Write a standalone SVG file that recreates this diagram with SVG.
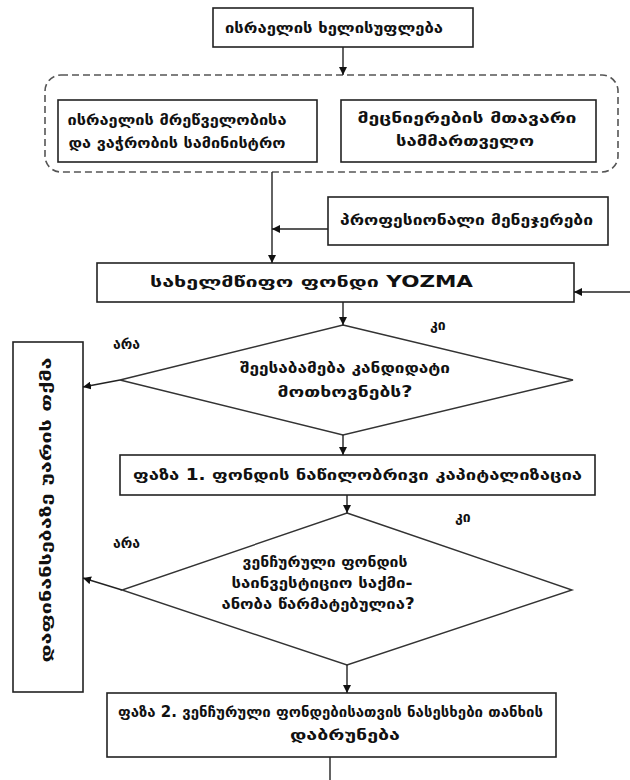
<svg xmlns="http://www.w3.org/2000/svg" width="630" height="780" viewBox="0 0 630 780">
<defs>
<marker id="ah" viewBox="0 0 10 10" refX="10" refY="5" markerWidth="8" markerHeight="8" markerUnits="userSpaceOnUse" orient="auto">
<path d="M0,0 L10,5 L0,10 z" fill="#111"/>
</marker>
</defs>
<style>
.box{fill:#fff;stroke:#222;stroke-width:1.6}
.dia{fill:#fff;stroke:#333;stroke-width:1.4}
.t{font-family:"DejaVu Sans","Noto Sans",sans-serif;font-weight:bold;font-size:15px;fill:#111}
.c{text-anchor:middle}
.lbl{font-family:"DejaVu Sans","Noto Sans",sans-serif;font-weight:bold;font-size:14px;fill:#111}
.ln{fill:none;stroke:#222;stroke-width:1.4}
.ar{fill:none;stroke:#222;stroke-width:1.4;marker-end:url(#ah)}
</style>
<rect width="630" height="780" fill="#fff"/>

<g id="group-ministry">
<rect x="45" y="75" width="573" height="97" rx="16" ry="16" fill="none" stroke="#555" stroke-width="1.6" stroke-dasharray="7,4"/>
</g>

<g id="gov">
<rect class="box" x="213" y="8" width="260" height="39"/>
<text class="t" x="225" y="33" textLength="218" lengthAdjust="spacingAndGlyphs">ისრაელის ხელისუფლება</text>
</g>

<g id="ministry">
<rect class="box" x="58" y="100" width="259" height="62"/>
<text class="t c" x="177" y="125" textLength="219" lengthAdjust="spacingAndGlyphs">ისრაელის მრეწველობისა</text>
<text class="t c" x="177" y="148" textLength="217" lengthAdjust="spacingAndGlyphs">და ვაჭრობის სამინისტრო</text>
</g>

<g id="chief-scientist">
<rect class="box" x="341" y="100" width="255" height="62"/>
<text class="t c" x="467" y="123" textLength="219" lengthAdjust="spacingAndGlyphs">მეცნიერების მთავარი</text>
<text class="t c" x="465" y="146" textLength="138" lengthAdjust="spacingAndGlyphs">სამმართველო</text>
</g>

<g id="managers">
<rect class="box" x="328" y="197" width="280" height="48"/>
<text class="t" x="340" y="225" textLength="253" lengthAdjust="spacingAndGlyphs">პროფესიონალი მენეჯერები</text>
</g>

<g id="yozma">
<rect class="box" x="97" y="263" width="477" height="39"/>
<text class="t" x="150" y="287" textLength="323" lengthAdjust="spacingAndGlyphs">სახელმწიფო ფონდი YOZMA</text>
</g>

<g id="decision1">
<polygon class="dia" points="343,325 573,380 343,435 120,380"/>
<text class="t c" x="345" y="373" textLength="210" lengthAdjust="spacingAndGlyphs">შეესაბამება კანდიდატი</text>
<text class="t c" x="345" y="397" textLength="135" lengthAdjust="spacingAndGlyphs">მოთხოვნებს?</text>
</g>

<g id="phase1">
<rect class="box" x="120" y="455" width="475" height="40"/>
<text class="t" x="133" y="480" textLength="449" lengthAdjust="spacingAndGlyphs">ფაზა 1. ფონდის ნაწილობრივი კაპიტალიზაცია</text>
</g>

<g id="decision2">
<polygon class="dia" points="347,513 572,590 347,665 122,590"/>
<text class="t c" x="325" y="567" textLength="165" lengthAdjust="spacingAndGlyphs">ვენჩურული ფონდის</text>
<text class="t c" x="322" y="588" textLength="181" lengthAdjust="spacingAndGlyphs">საინვესტიციო საქმი-</text>
<text class="t c" x="318" y="609" textLength="193" lengthAdjust="spacingAndGlyphs">ანობა წარმატებულია?</text>
</g>

<g id="phase2">
<rect class="box" x="107" y="693" width="449" height="64"/>
<text class="t" x="118" y="717" textLength="425" lengthAdjust="spacingAndGlyphs">ფაზა 2. ვენჩურული ფონდებისათვის ნასესხები თანხის</text>
<text class="t c" x="345" y="740" textLength="110" lengthAdjust="spacingAndGlyphs">დაბრუნება</text>
</g>

<g id="refusal">
<rect class="box" x="13" y="342" width="70" height="350"/>
<text class="t c" transform="translate(51,510) rotate(-90)" x="0" y="0" textLength="305" lengthAdjust="spacingAndGlyphs">დაფინანსებაზე უარის თქმა</text>
</g>

<g id="labels">
<text class="lbl" x="113" y="349">არა</text>
<text class="lbl" x="430" y="330">კი</text>
<text class="lbl" x="113" y="548">არა</text>
<text class="lbl" x="455" y="522">კი</text>
</g>

<g id="connectors">
<line class="ar" x1="343" y1="47" x2="343" y2="75"/>
<line class="ar" x1="272" y1="172" x2="272" y2="263"/>
<line class="ar" x1="328" y1="229" x2="272" y2="229"/>
<line class="ar" x1="630" y1="292" x2="574" y2="292"/>
<line class="ar" x1="343" y1="302" x2="343" y2="325"/>
<line class="ar" x1="120" y1="380" x2="83" y2="387"/>
<line class="ar" x1="343" y1="435" x2="343" y2="455"/>
<line class="ar" x1="347" y1="495" x2="347" y2="513"/>
<line class="ar" x1="122" y1="590" x2="83" y2="578"/>
<line class="ar" x1="347" y1="665" x2="347" y2="693"/>
<line class="ln" x1="330" y1="757" x2="330" y2="780"/>
</g>
</svg>
